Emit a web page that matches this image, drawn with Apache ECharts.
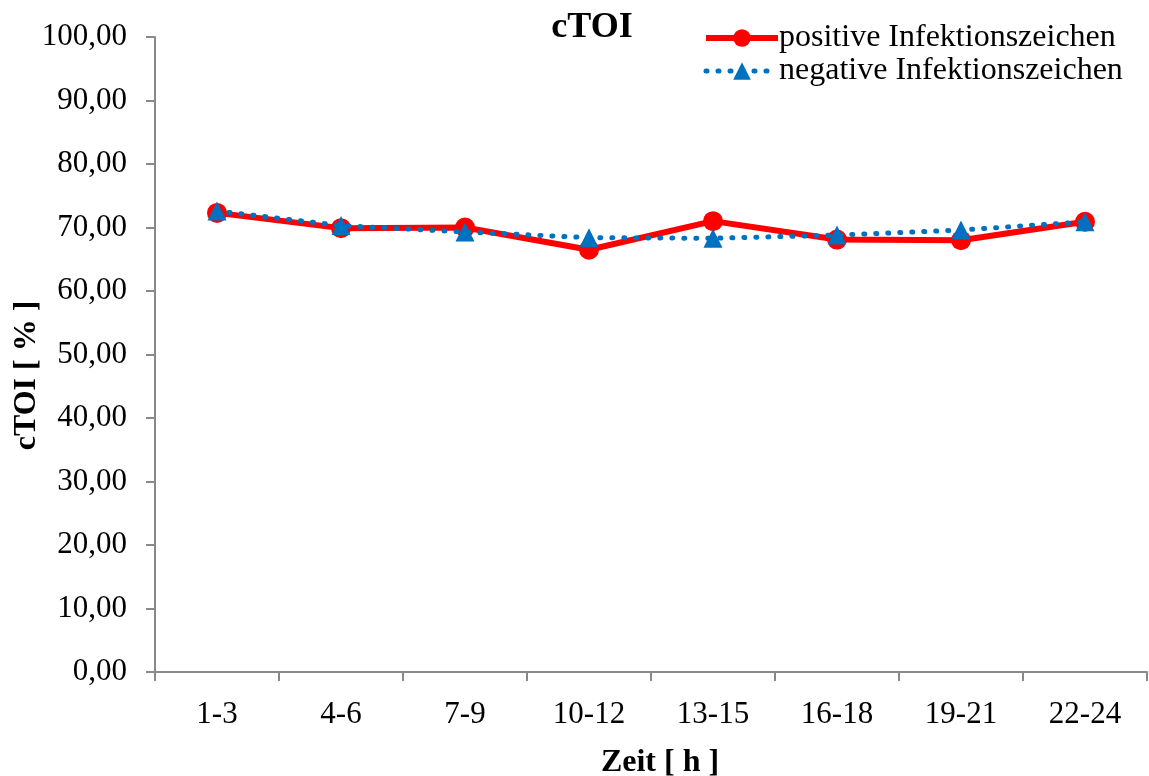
<!DOCTYPE html>
<html><head><meta charset="utf-8">
<script src="https://cdn.jsdelivr.net/npm/echarts@6/dist/echarts.min.js"></script>
<style>html,body{margin:0;padding:0;background:#fff}#c{width:1149px;height:776px}</style>
</head><body><div id="c"></div>
<script>
const categories = ['1-3','4-6','7-9','10-12','13-15','16-18','19-21','22-24'];
const positive = [72.3, 69.9, 70.0, 66.5, 71.0, 68.1, 68.0, 70.9];
const negative = [72.6, 70.3, 69.3, 68.4, 68.3, 68.8, 69.6, 70.9];
const yTicks = {min: 0, max: 100, interval: 10};
const font = '"Liberation Serif", "Times New Roman", serif';
const chart = echarts.init(document.getElementById('c'));
chart.setOption({
  animation: false,
  backgroundColor: '#fff',
  title: {text: 'cTOI', left: 587, top: 5, textAlign: 'center',
    textStyle: {fontFamily: font, fontSize: 36, fontWeight: 'bold', color: '#000'}},
  legend: {
    left: 698, top: 17, orient: 'vertical', itemGap: 1, itemWidth: 72, itemHeight: 22,
    textStyle: {fontFamily: font, fontSize: 32, color: '#000', padding: [0,0,0,-4]},
    data: [
      {name: 'positive Infektionszeichen', lineStyle: {width: 6}},
      {name: 'negative Infektionszeichen', lineStyle: {width: 5}}
    ]
  },
  grid: {left: 155, top: 37, right: 2, bottom: 104, containLabel: false, outerBoundsMode: 'none'},
  xAxis: {
    type: 'category', data: categories, boundaryGap: true,
    name: 'Zeit [ h ]', nameLocation: 'middle', nameGap: 75,
    nameTextStyle: {fontFamily: font, fontSize: 32, fontWeight: 'bold', color: '#000', padding: [0,0,0,18]},
    axisLine: {lineStyle: {color: '#898989', width: 2}},
    axisTick: {show: true, length: 9, inside: false, alignWithLabel: false, lineStyle: {color: '#898989', width: 2}},
    axisLabel: {fontFamily: font, fontSize: 31, color: '#000', margin: 27}
  },
  yAxis: {
    type: 'value', min: yTicks.min, max: yTicks.max, interval: yTicks.interval,
    name: 'cTOI [ % ]', nameLocation: 'middle', nameGap: 112, nameRotate: 90, nameMoveOverlap: false,
    nameTextStyle: {fontFamily: font, fontSize: 32, fontWeight: 'bold', color: '#000', padding: [0,42,0,0]},
    axisLine: {show: true, lineStyle: {color: '#898989', width: 2}},
    axisTick: {show: true, length: 9, lineStyle: {color: '#898989', width: 2}},
    splitLine: {show: false},
    axisLabel: {fontFamily: font, fontSize: 31, color: '#000', margin: 28,
      formatter: v => v.toFixed(2).replace('.', ',')}
  },
  series: [
    {name: 'positive Infektionszeichen', type: 'line', data: positive,
      symbol: 'circle', symbolSize: 20, z: 2,
      lineStyle: {color: '#FF0000', width: 6}, itemStyle: {color: '#FF0000'}},
    {name: 'negative Infektionszeichen', type: 'line', data: negative,
      symbol: 'triangle', symbolSize: 19, z: 3,
      lineStyle: {color: '#0070C0', width: 5, type: [1, 11], cap: 'round'}, itemStyle: {color: '#0070C0'}}
  ]
});
</script></body></html>
